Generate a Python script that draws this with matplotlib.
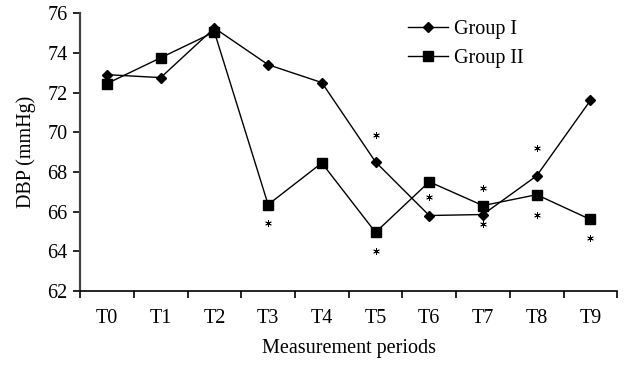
import matplotlib.pyplot as plt
import numpy as np

plt.rcParams['font.family'] = ['Liberation Serif', 'DejaVu Serif']

# data
periods = ['T0', 'T1', 'T2', 'T3', 'T4', 'T5', 'T6', 'T7', 'T8', 'T9']
group1 = [72.9, 72.75, 75.25, 73.4, 72.5, 68.5, 65.8, 65.85, 67.8, 71.6]
group2 = [72.45, 73.75, 75.05, 66.35, 68.45, 64.95, 67.5, 66.3, 66.85, 65.6]

# significance asterisks (period index, y value)
star_idx = [3, 5, 5, 6, 7, 7, 8, 8, 9]
star_val = [65.4, 69.85, 64.0, 66.75, 67.2, 65.35, 69.2, 65.85, 64.65]

fig = plt.figure(figsize=(6.26, 3.65), dpi=100)
ax = fig.add_axes([0.128, 0.203, 0.858, 0.761])

x = np.arange(len(periods))
ax.plot(x, group1, color='black', lw=1, marker='D', ms=5.5, label='Group I')
ax.plot(x, group2, color='black', lw=1, marker='s', ms=7.5, label='Group II')
ax.scatter(star_idx, star_val, marker=(6, 2, 0), s=18, color='black', lw=0.6)

ax.set_xlim(-0.5, 9.5)
ax.set_ylim(62, 76)
ax.set_yticks(np.arange(62, 77, 2))
ax.set_xticks(x)
ax.set_xticklabels(periods)
ax.set_xticks(np.arange(-0.5, 10, 1), minor=True)
ax.tick_params(axis='x', which='major', length=0, pad=13, labelsize=14.5)
ax.tick_params(axis='x', which='minor', length=5, width=1.2, direction='out')
ax.tick_params(axis='y', length=5, width=1.2, labelsize=14.5, pad=4)

for s in ['top', 'right']:
    ax.spines[s].set_visible(False)
ax.spines['left'].set_color('#444444')
ax.spines['left'].set_linewidth(1.6)
ax.spines['bottom'].set_linewidth(1.2)

ax.set_xlabel('Measurement periods', fontsize=14.5, labelpad=8)
ax.set_ylabel('DBP (mmHg)', fontsize=14.5, labelpad=8)

ax.legend(loc='upper right', bbox_to_anchor=(0.86, 1.04), frameon=False,
          fontsize=14.5, handlelength=2.0, handletextpad=0.3, labelspacing=0.5)

fig.savefig('out.png', dpi=100)
